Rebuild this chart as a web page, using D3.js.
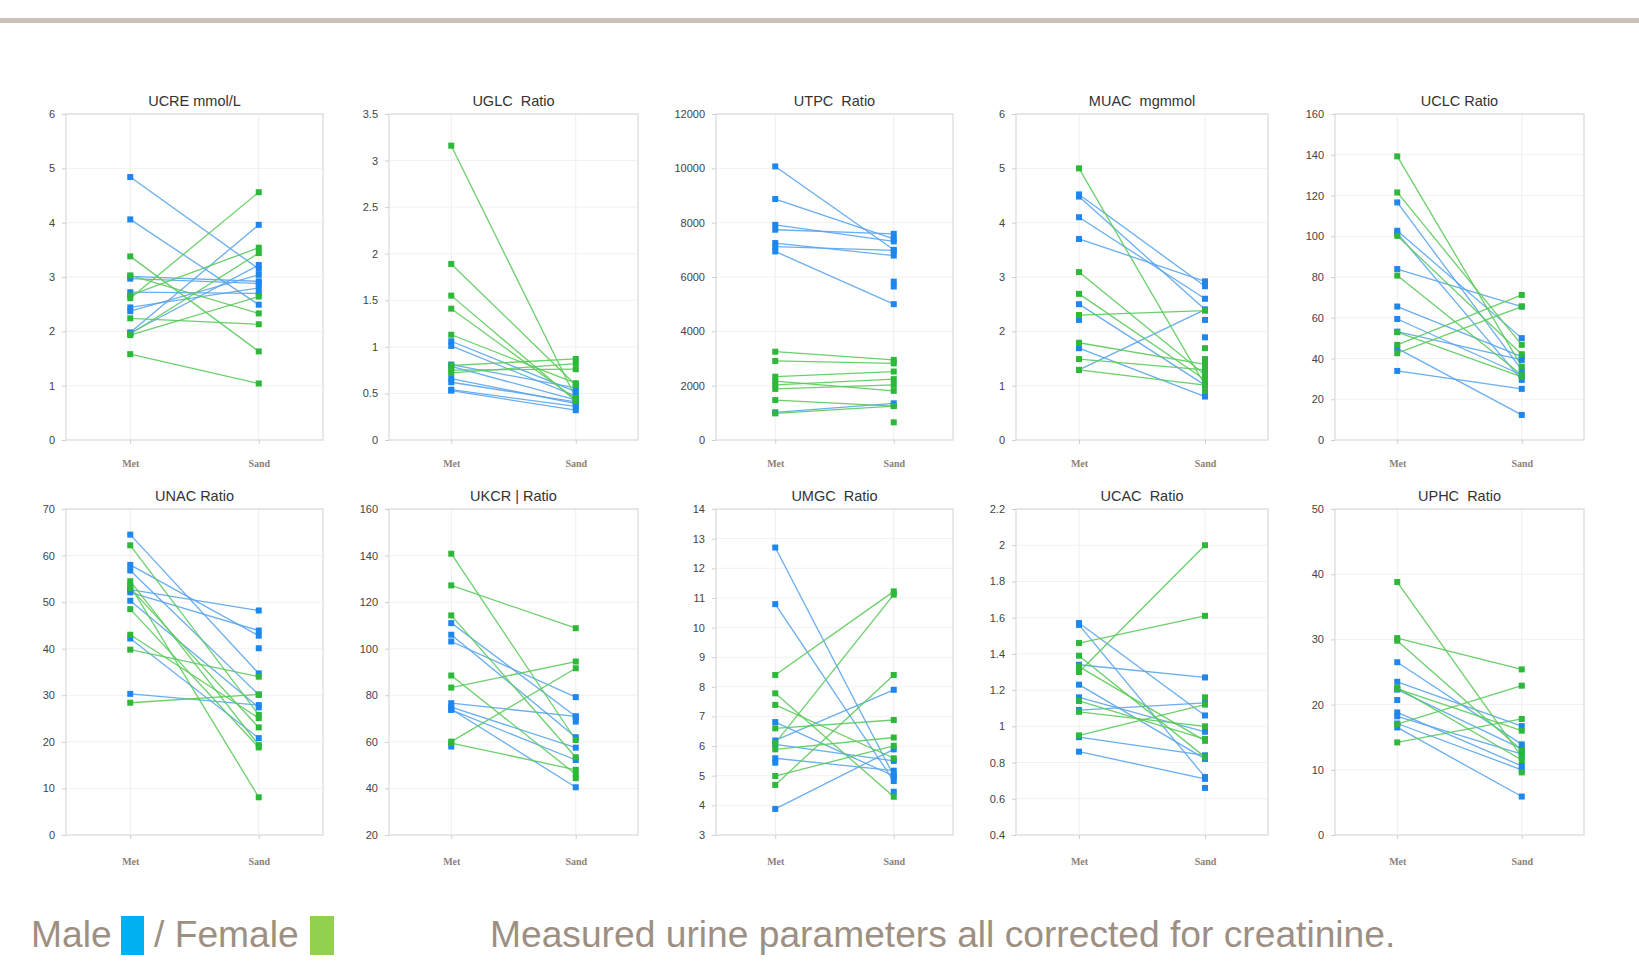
<!DOCTYPE html>
<html>
<head>
<meta charset="utf-8">
<script src="https://cdn.jsdelivr.net/npm/d3@7"></script>
<style>
  body { margin: 0; background: #fff; }
  svg { display: block; font-family: "Liberation Sans", Arial, sans-serif; }
</style>
</head>
<body>
<svg id="chart" width="1639" height="979"></svg>
<script>
// panel setup
const panelTitles = ["UCRE mmol/L", "UGLC  Ratio", "UTPC  Ratio", "MUAC  mgmmol", "UCLC Ratio",
  "UNAC Ratio", "UKCR | Ratio", "UMGC  Ratio", "UCAC  Ratio", "UPHC  Ratio"];
const yDomains = [[0, 6], [0, 3.5], [0, 12000], [0, 6], [0, 160],
  [0, 70], [20, 160], [3, 14], [0.4, 2.2], [0, 50]];
const yTickSteps = [1, 0.5, 2000, 1, 20, 10, 20, 1, 0.2, 10];
const visits = ["Met", "Sand"];

// [Met, Sand] per subject, null = no value
const ucreMale = [[4.84, 3.15], [4.06, 2.49], [3.01, 2.92], [2.97, 2.88], [2.72, 2.70], [2.44, 2.80], [2.37, 3.04], [1.98, 3.96], [1.97, 3.22]];
const ucreFemale = [[3.38, 1.63], [3.03, 2.33], [2.61, 4.56], [2.24, 2.13], [1.95, 3.44], [1.93, 2.64], [1.58, 1.04], [2.66, 3.54]];
const uglcMale = [[1.06, 0.52], [1.01, 0.47], [0.81, 0.56], [0.79, 0.43], [0.66, 0.39], [0.62, 0.41], [0.54, 0.36], [0.53, 0.32]];
const uglcFemale = [[3.16, 0.45], [1.89, 0.59], [1.55, 0.42], [1.41, 0.44], [1.13, 0.61], [0.80, 0.87], [0.72, 0.82], [0.75, 0.76]];
const utpcMale = [[10070, 7000], [8870, 7400], [7920, 7310], [7740, 7590], [7250, 6790], [7120, 6980], [6940, 5000], [1020, 1350], [null, 5830], [null, 5650]];
const utpcFemale = [[3250, 2950], [2910, 2820], [2330, 2520], [2170, 1810], [2030, 2240], [1880, 2030], [1470, 1250], [980, 1250], [null, 650]];
const muacMale = [[4.52, 2.83], [4.48, 2.40], [4.10, 2.60], [3.70, 2.92], [2.50, 1.01], [2.21, null], [1.69, 0.80], [1.29, 2.40], [null, 1.89], [null, 2.21]];
const muacFemale = [[5.0, 1.01], [3.09, 1.20], [2.69, 1.11], [2.30, 2.38], [1.79, 1.39], [1.49, 1.29], [1.29, 1.01], [null, 1.69], [null, 1.49], [null, 0.90]];
const uclcMale = [[116.6, 34.4], [102.7, 50.0], [101.5, 29.5], [83.9, 65.5], [65.5, 40.9], [59.4, 31.9], [53.2, 39.3], [45.0, 12.3], [33.9, 25.1]];
const uclcFemale = [[139.2, 36.0], [121.5, 46.7], [100.2, 42.1], [80.7, 31.9], [52.9, 31.0], [46.7, 71.2], [42.6, 65.5]];
const unacMale = [[64.5, 34.7], [58.0, 42.8], [56.8, 30.1], [52.7, 48.2], [52.1, 43.9], [50.3, 27.4], [42.2, 20.8], [30.3, 27.9], [null, 40.1]];
const unacFemale = [[62.2, 25.8], [54.5, 19.3], [53.5, 8.1], [48.5, 18.8], [43.0, 25.1], [39.8, 34.0], [28.4, 30.2], [53.0, 23.1]];
const ukcrMale = [[111.0, 70.9], [106.0, 62.0], [103.1, 79.2], [76.6, 70.9], [74.9, 57.5], [73.7, 52.2], [74.0, 40.5], [58.0, null], [null, 68.7]];
const ukcrFemale = [[140.8, 60.8], [127.2, 108.8], [114.3, 53.4], [88.5, 46.1], [83.3, 94.5], [60.1, 91.6], [59.5, 48.0], [null, 44.4]];
const umgcMale = [[12.70, 5.0], [10.79, 4.82], [6.81, 4.99], [6.19, 7.90], [6.06, 5.50], [5.59, 5.17], [5.44, null], [3.88, 5.89], [null, 4.46]];
const umgcFemale = [[8.40, 11.22], [7.78, 4.29], [7.39, 5.59], [6.60, 6.88], [6.10, 11.11], [5.89, 6.29], [4.99, 6.01], [4.69, 8.40]];
const ucacMale = [[1.57, 1.06], [1.56, 0.72], [1.34, 1.27], [1.23, 0.82], [1.16, 0.97], [1.09, 1.13], [0.94, 0.84], [0.86, 0.71], [null, 0.66]];
const ucacFemale = [[1.46, 1.61], [1.30, 2.00], [1.39, 0.83], [1.33, 0.92], [1.14, 0.93], [1.08, 1.00], [0.95, 1.12], [null, 1.16]];
const uphcMale = [[26.5, 13.9], [23.5, 16.7], [22.3, 13.2], [20.7, null], [18.8, 10.6], [18.2, 12.4], [17.1, 10.0], [16.5, 5.9]];
const uphcFemale = [[38.8, 12.0], [30.2, 25.4], [29.8, 13.0], [22.4, 16.0], [22.6, 11.5], [17.0, 22.9], [14.2, 17.8], [null, 9.6]];

const maleData = [ucreMale, uglcMale, utpcMale, muacMale, uclcMale, unacMale, ukcrMale, umgcMale, ucacMale, uphcMale];
const femaleData = [ucreFemale, uglcFemale, utpcFemale, muacFemale, uclcFemale, unacFemale, ukcrFemale, umgcFemale, ucacFemale, uphcFemale];

// layout
const colLeft = [66, 389, 716, 1016, 1335];
const colRight = [323, 638, 953, 1268, 1584];
const rowTop = [114, 509];
const rowLabelPad = [16, 19];
const plotHeight = 326;

const colors = {
  male: { line: "#5aa6ee", mark: "#1e86ec" },
  female: { line: "#5ccb5c", mark: "#2eb83a" },
};

const svg = d3.select("#chart");

// top rule
svg.append("rect").attr("x", 0).attr("y", 18).attr("width", 1639).attr("height", 5).attr("fill", "#cac2b6");

const fmt = (d) => String(+d.toFixed(2));

const drawPanel = (i) => {
  const col = i % 5, row = Math.floor(i / 5);
  const left = colLeft[col], right = colRight[col];
  const top = rowTop[row], bottom = top + plotHeight;
  const [y0, y1] = yDomains[i];

  const x = d3.scalePoint().domain(visits).range([left, right]).padding(0.5);
  const y = d3.scaleLinear().domain(yDomains[i]).range([bottom, top]);
  const ticks = d3.range(y0, y1 + yTickSteps[i] / 2, yTickSteps[i]);

  const g = svg.append("g");

  // grid
  g.selectAll(".hgrid").data(ticks.slice(1)).enter().append("line")
    .attr("x1", left).attr("x2", right)
    .attr("y1", (d) => y(d)).attr("y2", (d) => y(d))
    .attr("stroke", "#f1f1f1").attr("stroke-width", 1);
  g.selectAll(".vgrid").data(visits).enter().append("line")
    .attr("x1", (d) => x(d)).attr("x2", (d) => x(d))
    .attr("y1", top).attr("y2", bottom)
    .attr("stroke", "#eeeeee").attr("stroke-width", 1);

  g.append("rect").attr("x", left).attr("y", top)
    .attr("width", right - left).attr("height", plotHeight)
    .attr("fill", "none").attr("stroke", "#dcdcdc").attr("stroke-width", 1.3);

  // axes
  const yAxis = g.append("g").attr("transform", `translate(${left},0)`)
    .call(d3.axisLeft(y).tickValues(ticks).tickSize(4).tickPadding(7).tickFormat(fmt));
  yAxis.select(".domain").remove();
  yAxis.selectAll("line").attr("stroke", "#cfcfcf");
  yAxis.selectAll("text").attr("fill", "#444").attr("font-size", "11px")
    .attr("font-family", "'Liberation Sans', Arial, sans-serif");

  const xAxis = g.append("g").attr("transform", `translate(0,${bottom})`)
    .call(d3.axisBottom(x).tickSize(4).tickPadding(rowLabelPad[row]));
  xAxis.select(".domain").remove();
  xAxis.selectAll("line").attr("stroke", "#cfcfcf");
  xAxis.selectAll("text").attr("fill", "#8c8279").attr("font-size", "10px")
    .attr("font-weight", "bold").attr("font-family", "'Liberation Serif', 'Times New Roman', serif");

  // title
  g.append("text").attr("x", (left + right) / 2).attr("y", top - 13)
    .attr("text-anchor", "middle").attr("dominant-baseline", "central")
    .attr("font-size", "14.5px").attr("fill", "#333")
    .style("white-space", "pre").text(panelTitles[i]);

  const groups = [
    { data: maleData[i], c: colors.male },
    { data: femaleData[i], c: colors.female },
  ];

  groups.forEach(({ data, c }) => {
    g.selectAll(null).data(data.filter((p) => p[0] != null && p[1] != null)).enter().append("line")
      .attr("x1", x("Met")).attr("x2", x("Sand"))
      .attr("y1", (p) => y(p[0])).attr("y2", (p) => y(p[1]))
      .attr("stroke", c.line).attr("stroke-width", 1.3).attr("opacity", 0.9);
  });

  groups.forEach(({ data, c }) => {
    const pts = [];
    data.forEach((p) => {
      visits.forEach((v, k) => {
        if (p[k] != null) pts.push({ v, val: p[k] });
      });
    });
    g.selectAll(null).data(pts).enter().append("rect")
      .attr("x", (d) => x(d.v) - 3).attr("y", (d) => y(d.val) - 3)
      .attr("width", 6).attr("height", 6)
      .attr("fill", c.mark);
  });
};

d3.range(10).forEach(drawPanel);

// legend and note
const legend = svg.append("g").attr("font-size", "37.2px").attr("fill", "#9d9083");
legend.append("text").attr("x", 31).attr("y", 947).text("Male");
legend.append("rect").attr("x", 121).attr("y", 916).attr("width", 23).attr("height", 39).attr("fill", "#00b0f0");
legend.append("text").attr("x", 154).attr("y", 947).text("/ Female");
legend.append("rect").attr("x", 310).attr("y", 916).attr("width", 24).attr("height", 39).attr("fill", "#92d050");
legend.append("text").attr("x", 490).attr("y", 947).text("Measured urine parameters all corrected for creatinine.");
</script>
</body>
</html>
